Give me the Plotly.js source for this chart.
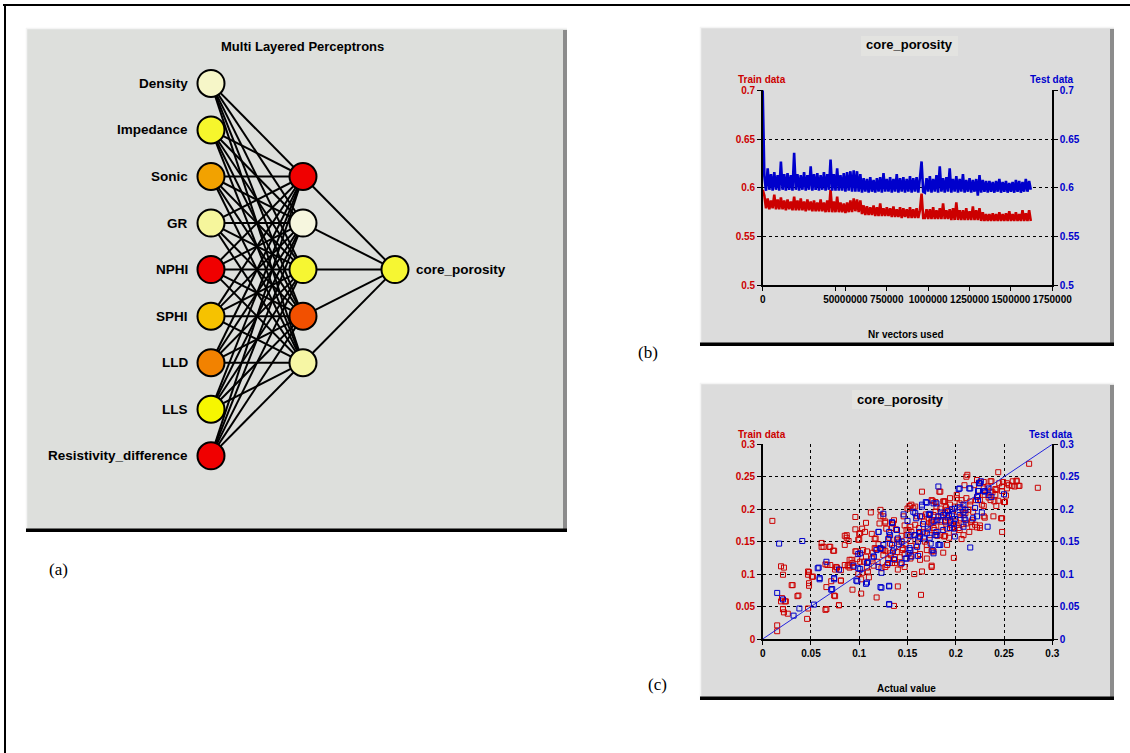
<!DOCTYPE html>
<html>
<head>
<meta charset="utf-8">
<script src="https://cdn.plot.ly/plotly-3.0.1.min.js"></script>
<style>
html,body{margin:0;padding:0;background:#fff;}
#chart{width:1130px;height:753px;}
</style>
</head>
<body>
<div id="chart"></div>
<script>
// ---------------- DATA ----------------
// (a) network
const inputLabels = ["Density","Impedance","Sonic","GR","NPHI","SPHI","LLD","LLS","Resistivity_difference"];
const inputColors = ["#f6f6c8","#f6f62c","#f2a200","#f6f69c","#f00000","#f6c200","#f28200","#f6f600","#f00000"];
const hiddenColors = ["#f00000","#f6f6de","#f6f632","#f25000","#f6f6a4"];
const outputLabels = ["core_porosity"];
const outputColors = ["#f6f632"];
const networkTitle = "Multi Layered Perceptrons";

// (b) learning curves: value per sample, samples every vectorStep vectors
const vectorStep = 10000;
const trainCurve = [
0.598,0.592,0.579,0.589,0.578,0.587,0.579,0.593,0.578,0.588,
0.578,0.590,0.578,0.587,0.577,0.588,0.578,0.586,0.577,0.591,
0.577,0.587,0.577,0.589,0.577,0.586,0.576,0.588,0.577,0.586,
0.576,0.587,0.576,0.585,0.576,0.588,0.576,0.585,0.575,0.587,
0.575,0.598,0.575,0.586,0.575,0.591,0.575,0.585,0.575,0.584,
0.574,0.585,0.575,0.587,0.575,0.589,0.576,0.588,0.575,0.587,
0.573,0.582,0.572,0.581,0.572,0.580,0.572,0.582,0.571,0.580,
0.571,0.584,0.571,0.579,0.571,0.580,0.571,0.579,0.570,0.581,
0.570,0.578,0.570,0.580,0.569,0.579,0.570,0.578,0.569,0.580,
0.569,0.578,0.569,0.579,0.569,0.577,0.594,0.569,0.569,0.578,
0.568,0.578,0.568,0.580,0.568,0.577,0.568,0.579,0.568,0.584,
0.568,0.577,0.568,0.578,0.567,0.579,0.567,0.585,0.567,0.577,
0.567,0.577,0.567,0.579,0.567,0.576,0.567,0.581,0.567,0.577,
0.567,0.579,0.566,0.575,0.566,0.573,0.566,0.573,0.566,0.574,
0.566,0.573,0.566,0.575,0.566,0.573,0.566,0.574,0.566,0.576,
0.566,0.573,0.566,0.575,0.566,0.573,0.566,0.577,0.566,0.574,
0.566,0.577,0.566];
const testCurve = [
0.700,0.612,0.597,0.620,0.598,0.614,0.597,0.616,0.598,0.613,
0.597,0.627,0.598,0.614,0.597,0.615,0.598,0.613,0.597,0.636,
0.598,0.614,0.597,0.613,0.598,0.616,0.597,0.613,0.598,0.622,
0.597,0.614,0.598,0.615,0.597,0.613,0.598,0.616,0.597,0.614,
0.598,0.629,0.597,0.614,0.597,0.620,0.597,0.613,0.597,0.615,
0.596,0.616,0.597,0.617,0.596,0.618,0.596,0.617,0.596,0.614,
0.595,0.610,0.596,0.609,0.595,0.611,0.596,0.608,0.595,0.610,
0.596,0.611,0.595,0.615,0.596,0.609,0.596,0.611,0.595,0.609,
0.596,0.614,0.595,0.610,0.596,0.611,0.595,0.609,0.596,0.612,
0.595,0.610,0.596,0.611,0.595,0.610,0.627,0.596,0.595,0.610,
0.596,0.612,0.595,0.609,0.596,0.613,0.595,0.622,0.596,0.610,
0.595,0.611,0.596,0.620,0.595,0.609,0.596,0.612,0.595,0.609,
0.596,0.614,0.595,0.608,0.596,0.610,0.595,0.608,0.596,0.609,
0.592,0.613,0.595,0.608,0.596,0.607,0.595,0.607,0.596,0.606,
0.595,0.607,0.596,0.609,0.595,0.606,0.596,0.607,0.595,0.605,
0.596,0.606,0.595,0.608,0.596,0.607,0.595,0.606,0.596,0.609,
0.596,0.607,0.598];
const curveXTicks = [0,437500,500000,750000,1000000,1250000,1500000,1750000];
const curveXTickText = ["0","","50000000","750000","1000000","1250000","1500000","1750000"];
const curveYTicks = [0.5,0.55,0.6,0.65,0.7];
const curveYTickText = ["0.5","0.55","0.6","0.65","0.7"];

// (c) predicted vs actual
const trainX = [
.010,.015,.015,.019,.022,.021,.019,.024,.021,.022,.026,.030,.037,.046,.047,.047,.048,.048,.048,.051,
.061,.061,.065,.067,.066,.069,.070,.071,.074,.074,.075,.077,.079,.081,.081,.085,.087,.085,.088,.089,
.090,.092,.093,.094,.096,.096,.097,.098,.099,.100,.100,.102,.102,.103,.103,.104,.105,.107,.107,.108,
.109,.110,.112,.113,.114,.115,.116,.117,.118,.119,.120,.121,.122,.122,.123,.124,.125,.127,.127,.128,
.129,.130,.131,.132,.133,.134,.135,.136,.136,.137,.138,.139,.140,.140,.141,.142,.143,.144,.145,.146,
.147,.147,.148,.149,.150,.151,.152,.153,.154,.154,.156,.157,.158,.158,.159,.160,.161,.162,.163,.164,
.165,.165,.166,.167,.168,.169,.170,.171,.172,.173,.174,.175,.175,.176,.177,.178,.179,.180,.181,.183,
.184,.185,.185,.187,.188,.189,.190,.191,.191,.192,.193,.194,.195,.196,.198,.198,.199,.200,.201,.202,
.203,.204,.205,.206,.207,.208,.209,.210,.211,.212,.213,.214,.215,.216,.217,.219,.221,.222,.223,.224,
.225,.227,.229,.230,.230,.233,.234,.236,.238,.240,.241,.242,.244,.245,.247,.248,.248,.249,.250,.252,
.253,.255,.259,.261,.263,.266,.276,.285,
.125,.106,.101,.087,.085,.099,.117,.127,.136,.134,.149,.154,.158,.184,.165,.179,.189,.188,.191,.177,
.170,.175,.163,.153,.145,.139,.132,.125,.116,.113,.108,.101,.096,.090,.137,.127,.170,.158,.147,.175,
.184,.190,.153,.163,
.211,.222,.237,.253,.263,.265,.258,.248,.242,.236,.229,.241,.251,.244,.236,.225,.248,.215,.206,.201,
.194,.187,.180,.175,.189,.208,.218,.229,.239,.229,.220,.211,.201,.194,.225,.208,.189,.177,.196,.184,
.204,.217,.175,
.031,.021,.023,.020,.036,.047,.052,.063,.070,.073,.065,.066,.076,.081,.079,.075,.089,.093];
const trainY = [
.182,.021,.012,.112,.110,.099,.058,.058,.046,.041,.039,.083,.067,.031,.047,.099,.103,.086,.082,.096,
.148,.142,.045,.114,.080,.142,.114,.089,.136,.067,.107,.110,.052,.106,.090,.159,.156,.114,.112,.151,
.110,.122,.076,.111,.188,.169,.135,.123,.100,.153,.162,.070,.092,.170,.102,.137,.119,.179,.127,.110,
.104,.095,.195,.162,.133,.113,.154,.139,.064,.119,.146,.178,.199,.189,.109,.139,.129,.181,.136,.170,
.114,.123,.156,.147,.129,.117,.178,.140,.051,.122,.169,.134,.107,.081,.150,.126,.115,.159,.140,.189,
.175,.131,.146,.160,.201,.168,.205,.151,.128,.165,.202,.100,.160,.176,.144,.189,.155,.171,.131,.068,
.104,.227,.165,.181,.150,.192,.137,.173,.186,.160,.178,.113,.135,.213,.191,.168,.211,.181,.159,.227,
.201,.173,.189,.133,.212,.159,.181,.170,.199,.186,.156,.217,.176,.192,.165,.125,.204,.181,.222,.196,
.171,.209,.186,.154,.201,.177,.237,.194,.217,.253,.199,.165,.207,.180,.173,.237,.214,.172,.221,.241,
.175,.207,.242,.187,.222,.235,.218,.243,.226,.212,.231,.205,.257,.240,.186,.228,.165,.242,.211,.221,
.232,.237,.243,.235,.244,.236,.270,.233,
.189,.165,.163,.160,.145,.153,.155,.179,.183,.171,.168,.207,.204,.227,.189,.196,.212,.158,.145,.135,
.124,.111,.122,.124,.137,.153,.132,.137,.140,.124,.135,.119,.135,.122,.117,.111,.145,.137,.111,.183,
.183,.203,.173,.163,
.250,.245,.243,.240,.243,.236,.236,.235,.230,.227,.232,.222,.211,.213,.214,.214,.186,.212,.214,.217,
.207,.212,.204,.214,.194,.191,.196,.189,.189,.205,.176,.178,.176,.181,.171,.160,.183,.171,.171,.160,
.168,.183,.181,
.083,.046,.058,.063,.066,.104,.096,.142,.142,.136,.115,.046,.111,.090,.052,.066,.114,.117];
const testX = [
.017,.015,.021,.032,.038,.041,.053,.058,.059,.066,.071,.074,.094,.099,.098,.101,.108,.107,.109,.115,
.120,.122,.123,.125,.123,.130,.131,.131,.134,.136,.139,.140,.141,.144,.146,.148,.150,.151,.152,.154,
.156,.157,.159,.161,.162,.165,.166,.167,.169,.171,.172,.173,.174,.176,.177,.179,.182,.183,.185,.189,
.192,.193,.194,.196,.198,.199,.203,.204,.208,.209,.214,.215,.218,.220,.223,.224,.226,.227,.230,.233,
.234,.250,
.204,.215,.225,.230,.234,.237,.224,.222,.223,.208,.210,.199,.180,.204,.222,.187,.196,.182,.210,.198,
.194,.208,.180,.199,.173,.165,.170,.177,.158,.163,.173,.181,.134,.139,.131,.120,.132,.144,.151,.158,
.163,.170,.180,.182,.187,.125,.122,.134,.135,.153,.160,.149,.115,.108,.101,.120,.177,.184,.161,
.057,.059,.072,.074,.079,.097,.099,.131,.122,.131,.118,.130];
const testY = [
.147,.071,.061,.036,.047,.151,.053,.110,.094,.119,.076,.094,.113,.131,.089,.108,.087,.085,.119,.127,
.165,.139,.079,.193,.102,.154,.053,.081,.180,.123,.168,.155,.146,.117,.192,.124,.182,.132,.140,.127,
.196,.160,.186,.150,.165,.204,.177,.155,.211,.170,.192,.156,.147,.137,.181,.160,.235,.145,.195,.181,
.197,.191,.181,.200,.170,.185,.231,.203,.196,.186,.232,.141,.186,.202,.228,.240,.243,.195,.228,.173,
.232,.223,
.232,.232,.240,.227,.222,.219,.228,.219,.214,.207,.199,.201,.209,.191,.189,.191,.189,.189,.183,.178,
.171,.173,.165,.158,.191,.207,.210,.209,.194,.189,.193,.183,.179,.168,.165,.165,.160,.150,.160,.160,
.158,.163,.160,.145,.168,.145,.140,.145,.135,.137,.142,.124,.127,.117,.132,.111,.132,.145,.128,
.109,.092,.077,.092,.107,.090,.109,.054,.080,.082,.137,.117];
const identityLine = [0, 0.3];
const scatterTicks = [0,0.05,0.1,0.15,0.2,0.25,0.3];
const scatterTickText = ["0","0.05","0.1","0.15","0.2","0.25","0.3"];

const RED = "#cc0000", BLUE = "#0000cc";

// ---------------- LAYOUT HELPERS ----------------
const W = 1130, H = 753;
const px = v => v / W;
const py = v => 1 - v / H;
const FONT = "Liberation Sans, Arial, sans-serif";
const bold = (size, color) => ({family: FONT, size: size, color: color || "#000", weight: "bold"});

function panelShapes(x0, y0, x1, y1, fill) {
  return [
    {type:"rect", xref:"paper", yref:"paper", x0:px(x0), x1:px(x1), y0:py(y1), y1:py(y0), fillcolor:fill, line:{width:0}, layer:"below"},
    {type:"line", xref:"paper", yref:"paper", x0:px(x0), x1:px(x1), y0:py(y0+0.5), y1:py(y0+0.5), line:{color:"#f4f4f4", width:1.5}, layer:"below"},
    {type:"line", xref:"paper", yref:"paper", x0:px(x0+0.5), x1:px(x0+0.5), y0:py(y0), y1:py(y1), line:{color:"#f4f4f4", width:1.5}, layer:"below"},
    {type:"rect", xref:"paper", yref:"paper", x0:px(x1-4), x1:px(x1), y0:py(y1), y1:py(y0+2), fillcolor:"#8c8c8c", line:{width:0}, layer:"below"},
    {type:"rect", xref:"paper", yref:"paper", x0:px(x0), x1:px(x1), y0:py(y1), y1:py(y1-3.5), fillcolor:"#000", line:{width:0}, layer:"below"}
  ];
}
function boxShape(x0, y0, x1, y1, fill) {
  return {type:"rect", xref:"paper", yref:"paper", x0:px(x0), x1:px(x1), y0:py(y1), y1:py(y0), fillcolor:fill, line:{width:0}, layer:"below"};
}

// ---------------- TRACES ----------------
const traces = [];

// (b)
traces.push({type:"scatter", mode:"lines", x:trainCurve.map((_, i) => i * vectorStep), y:trainCurve, xaxis:"x", yaxis:"y",
  line:{color:RED, width:2.6, simplify:false, shape:"linear"}, hoverinfo:"skip", showlegend:false});
traces.push({type:"scatter", mode:"lines", x:testCurve.map((_, i) => i * vectorStep), y:testCurve, xaxis:"x", yaxis:"y2",
  line:{color:BLUE, width:2.6, simplify:false, shape:"linear"}, hoverinfo:"skip", showlegend:false});

// (c)
traces.push({type:"scatter", mode:"lines", x:identityLine, y:identityLine, xaxis:"x2", yaxis:"y4",
  line:{color:"#2222dd", width:1}, hoverinfo:"skip", showlegend:false});
traces.push({type:"scatter", mode:"markers", x:trainX, y:trainY, xaxis:"x2", yaxis:"y3",
  marker:{symbol:"square-open", size:5, color:RED, line:{width:1, color:RED}}, hoverinfo:"skip", showlegend:false});
traces.push({type:"scatter", mode:"markers", x:testX, y:testY, xaxis:"x2", yaxis:"y4",
  marker:{symbol:"square-open", size:5, color:BLUE, line:{width:1, color:BLUE}}, hoverinfo:"skip", showlegend:false});

// (a) network: layer index on x, row on y
const nIn = inputLabels.length, nHid = hiddenColors.length, nOut = outputLabels.length;
const inRows = inputLabels.map((_, i) => i);
const hidRows = hiddenColors.map((_, j) => j + (nIn - nHid) / 2);
const outRows = outputLabels.map((_, k) => k + (nIn - 1) / 2 - (nOut - 1) / 2);
const ex = [], ey = [];
inRows.forEach(r => hidRows.forEach(h => { ex.push(0, 1, null); ey.push(r, h, null); }));
hidRows.forEach(h => outRows.forEach(o => { ex.push(1, 2, null); ey.push(h, o, null); }));
traces.push({type:"scatter", mode:"lines", x:ex, y:ey, xaxis:"x3", yaxis:"y5",
  line:{color:"#000", width:2}, hoverinfo:"skip", showlegend:false});
const nodeMarker = colors => ({size:27, color:colors, line:{color:"#000", width:2}});
traces.push({type:"scatter", mode:"markers", x:inRows.map(() => 0), y:inRows, xaxis:"x3", yaxis:"y5",
  marker:nodeMarker(inputColors), hoverinfo:"skip", showlegend:false});
traces.push({type:"scatter", mode:"markers", x:hidRows.map(() => 1), y:hidRows, xaxis:"x3", yaxis:"y5",
  marker:nodeMarker(hiddenColors), hoverinfo:"skip", showlegend:false});
traces.push({type:"scatter", mode:"markers", x:outRows.map(() => 2), y:outRows, xaxis:"x3", yaxis:"y5",
  marker:nodeMarker(outputColors), hoverinfo:"skip", showlegend:false});

const nodeAnnotations = [];
inputLabels.forEach((t, i) => nodeAnnotations.push({text:t, xref:"x3", yref:"y5", x:0, y:inRows[i],
  xanchor:"right", yanchor:"middle", xshift:-21, showarrow:false, font:bold(13.5)}));
outputLabels.forEach((t, k) => nodeAnnotations.push({text:t, xref:"x3", yref:"y5", x:2, y:outRows[k],
  xanchor:"left", yanchor:"middle", xshift:19, showarrow:false, font:bold(13.5)}));

// ---------------- AXES ----------------
const plotX = [px(762.7), px(1052.3)];
const baseAxis = {showline:true, linecolor:"#000", linewidth:1.5, ticks:"outside", ticklen:4, tickcolor:"#000",
  zeroline:false, fixedrange:true, tickmode:"array"};
const serif = {family:"Liberation Serif, Times New Roman, serif", size:17, color:"#000"};
const ann = (text, x, y, font) => ({text:text, xref:"paper", yref:"paper", x:px(x), y:py(y), showarrow:false,
  xanchor:"center", yanchor:"middle", font:font});

const layout = {
  width:W, height:H, margin:{l:0, r:0, t:0, b:0},
  paper_bgcolor:"#fff", plot_bgcolor:"rgba(0,0,0,0)", showlegend:false,
  xaxis: Object.assign({}, baseAxis, {domain:plotX, anchor:"y", range:[0,1750000],
    tickvals:curveXTicks, ticktext:curveXTickText, showgrid:false, tickfont:bold(10)}),
  yaxis: Object.assign({}, baseAxis, {domain:[py(285.3), py(90.3)], anchor:"x", range:[0.5,0.7],
    tickvals:curveYTicks, ticktext:curveYTickText, showgrid:true, gridcolor:"#000", griddash:"dot", gridwidth:1,
    tickfont:bold(10, RED)}),
  yaxis2: Object.assign({}, baseAxis, {overlaying:"y", side:"right", anchor:"x", range:[0.5,0.7],
    tickvals:curveYTicks, ticktext:curveYTickText, showgrid:false, tickfont:bold(10, BLUE)}),
  xaxis2: Object.assign({}, baseAxis, {domain:plotX, anchor:"y3", range:[0,0.3],
    tickvals:scatterTicks, ticktext:scatterTickText, showgrid:true, gridcolor:"#000", griddash:"dot", gridwidth:1,
    tickfont:bold(10)}),
  yaxis3: Object.assign({}, baseAxis, {domain:[py(639), py(444.3)], anchor:"x2", range:[0,0.3],
    tickvals:scatterTicks, ticktext:scatterTickText, showgrid:true, gridcolor:"#000", griddash:"dot", gridwidth:1,
    tickfont:bold(10, RED)}),
  yaxis4: Object.assign({}, baseAxis, {overlaying:"y3", side:"right", anchor:"x2", range:[0,0.3],
    tickvals:scatterTicks, ticktext:scatterTickText, showgrid:false, tickfont:bold(10, BLUE)}),
  xaxis3: {domain:[px(26), px(567)], anchor:"y5", range:[-2.011, 3.870], visible:false, fixedrange:true},
  yaxis5: {domain:[py(532), py(28)], anchor:"x3", range:[9.636, -1.190], visible:false, fixedrange:true},
  shapes: [].concat(
    panelShapes(26, 28, 567, 532, "#dddfdc"),
    panelShapes(700, 27, 1114, 346, "#dcdcdc"),
    panelShapes(700, 383, 1114, 700, "#dcdcdc"),
    [boxShape(861, 36, 958, 56, "#e3e3e0"), boxShape(852, 390, 948, 409, "#e3e3e0"),
     {type:"line", xref:"paper", yref:"paper", x0:px(3), x1:1, y0:py(5), y1:py(5), line:{color:"#000", width:2}},
     {type:"line", xref:"paper", yref:"paper", x0:px(5), x1:px(5), y0:py(4), y1:0, line:{color:"#000", width:2}}]
  ),
  annotations: nodeAnnotations.concat([
    ann(networkTitle, 302, 47, bold(13)),
    ann("core_porosity", 909, 45, bold(13)),
    ann("core_porosity", 900, 399, bold(13)),
    ann("Train data", 762, 79, bold(10, RED)),
    ann("Test data", 1052, 79, bold(10, BLUE)),
    ann("Train data", 762, 434, bold(10, RED)),
    ann("Test data", 1051, 434, bold(10, BLUE)),
    ann("Nr vectors used", 906, 334, bold(10)),
    ann("Actual value", 906, 688, bold(10)),
    ann("(a)", 58, 569, serif),
    ann("(b)", 648, 352, serif),
    ann("(c)", 657, 684, serif)
  ])
};

Plotly.newPlot("chart", traces, layout, {staticPlot:true, displayModeBar:false});
</script>
</body>
</html>
